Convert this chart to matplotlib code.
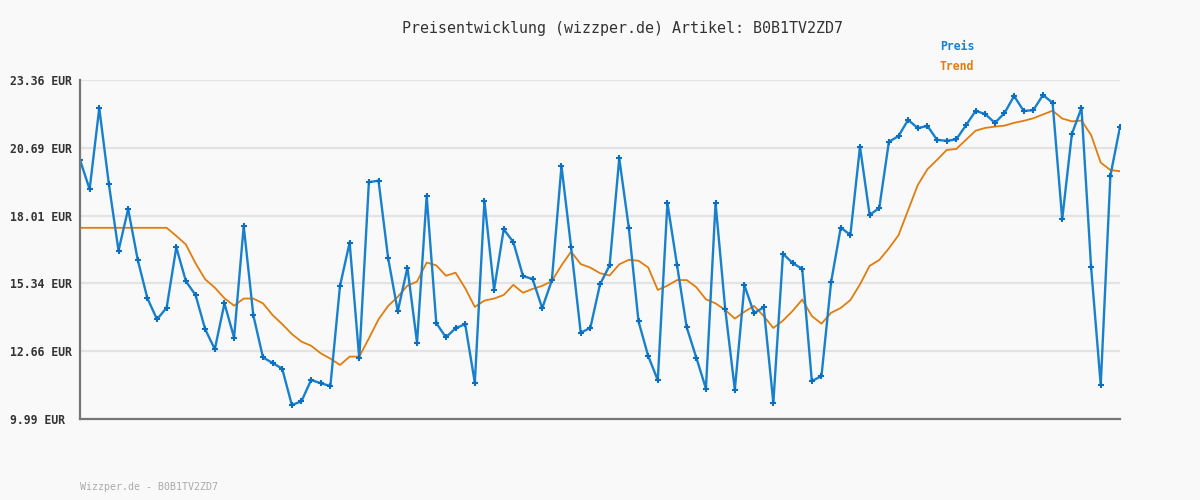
import matplotlib
matplotlib.use("Agg")
import matplotlib.pyplot as plt
import numpy as np

title = "Preisentwicklung (wizzper.de) Artikel: B0B1TV2ZD7"
footer = "Wizzper.de - B0B1TV2ZD7"
series_names = ["Preis", "Trend"]
y_ticks = [9.99, 12.66, 15.34, 18.01, 20.69, 23.36]
y_tick_labels = ["9.99 EUR", "12.66 EUR", "15.34 EUR", "18.01 EUR", "20.69 EUR", "23.36 EUR"]

preis = [20.21, 19.05, 22.25, 19.25, 16.63, 18.27, 16.26, 14.75, 13.92, 14.38,
         16.76, 15.42, 14.88, 13.53, 12.74, 14.55, 13.20, 17.60, 14.08, 12.42,
         12.20, 11.97, 10.54, 10.69, 11.53, 11.40, 11.29, 15.24, 16.95, 12.38,
         19.33, 19.39, 16.33, 14.24, 15.96, 13.00, 18.79, 13.77, 13.21, 13.57,
         13.73, 11.42, 18.59, 15.09, 17.47, 16.97, 15.63, 15.51, 14.36, 15.46,
         19.97, 16.76, 13.39, 13.59, 15.30, 16.05, 20.27, 17.51, 13.84, 12.48,
         11.52, 18.51, 16.06, 13.61, 12.41, 11.19, 18.51, 14.34, 11.15, 15.26,
         14.16, 14.40, 10.63, 16.51, 16.14, 15.91, 11.48, 11.69, 15.39, 17.54,
         17.25, 20.73, 18.04, 18.31, 20.92, 21.15, 21.79, 21.46, 21.55, 21.00,
         20.96, 21.02, 21.57, 22.14, 22.02, 21.67, 22.05, 22.73, 22.14, 22.17,
         22.77, 22.46, 17.87, 21.23, 22.26, 15.97, 11.32, 19.58, 21.51]

trend = [17.53, 17.53, 17.53, 17.53, 17.53, 17.53, 17.53, 17.53, 17.53, 17.53,
         17.21, 16.87, 16.13, 15.50, 15.17, 14.75, 14.46, 14.74, 14.74, 14.55,
         14.09, 13.73, 13.34, 13.04, 12.88, 12.58, 12.37, 12.12, 12.45, 12.45,
         13.17, 13.92, 14.45, 14.81, 15.25, 15.41, 16.16, 16.05, 15.64, 15.76,
         15.15, 14.41, 14.66, 14.74, 14.88, 15.28, 14.97, 15.12, 15.24, 15.43,
         16.05, 16.59, 16.10, 15.96, 15.74, 15.65, 16.09, 16.27, 16.23, 15.97,
         15.08, 15.25, 15.47, 15.47, 15.19, 14.71, 14.55, 14.29, 13.95, 14.22,
         14.45, 14.05, 13.58, 13.87, 14.25, 14.70, 14.05, 13.75, 14.18, 14.37,
         14.68, 15.30, 16.03, 16.26, 16.72, 17.24, 18.23, 19.22, 19.84, 20.21,
         20.60, 20.64, 21.00, 21.36, 21.47, 21.52, 21.56, 21.67, 21.75, 21.85,
         22.00, 22.15, 21.84, 21.73, 21.76, 21.19, 20.10, 19.81, 19.76]

blue = "#1880cc"
orange = "#e07d10"
bg = "#f9f9f9"
mono = "DejaVu Sans Mono"

fig = plt.figure(figsize=(12, 5), dpi=100, facecolor=bg)
ax = fig.add_axes([80/1200, 81/500, 1040/1200, 339/500])
ax.set_facecolor(bg)

x = np.arange(len(preis))
ax.plot(x, trend, color=orange, lw=1.3, zorder=3)
ax.plot(x, preis, color=blue, lw=1.7, marker="+", ms=4, mew=1.5,
        mec="#0a6fc0", zorder=4)

ax.set_xlim(0, len(preis) - 1)
ax.set_ylim(y_ticks[0], y_ticks[-1])
ax.set_yticks(y_ticks)
ax.set_yticklabels(y_tick_labels, fontfamily=mono, fontweight="bold", fontsize=8.3, color="#333333")
for lab in ax.get_yticklabels():
    lab.set_horizontalalignment("left")
ax.tick_params(axis="y", length=0, pad=50.5)
ax.set_xticks([])
ax.grid(axis="y", color="#e3e3e3", lw=1.6, zorder=0)
ax.set_axisbelow(True)
for s in ["top", "right"]:
    ax.spines[s].set_visible(False)
for s in ["left", "bottom"]:
    ax.spines[s].set_color("#777777")
    ax.spines[s].set_linewidth(1.6)
    ax.spines[s].set_zorder(5)

fig.text(0.519, 1 - 28/500, title, ha="center", va="center", fontfamily=mono, fontsize=10.8, color="#333333")
fig.text(940/1200, 1 - 47/500, series_names[0], ha="left", va="center", fontfamily=mono, fontweight="bold", fontsize=8.3, color=blue)
fig.text(940/1200, 1 - 67/500, series_names[1], ha="left", va="center", fontfamily=mono, fontweight="bold", fontsize=8.3, color=orange)
fig.text(80/1200, 1 - 487/500, footer, ha="left", va="center", fontfamily=mono, fontsize=7.2, color="#aaaaaa")

fig.savefig("out.png", dpi=100, facecolor=bg)
